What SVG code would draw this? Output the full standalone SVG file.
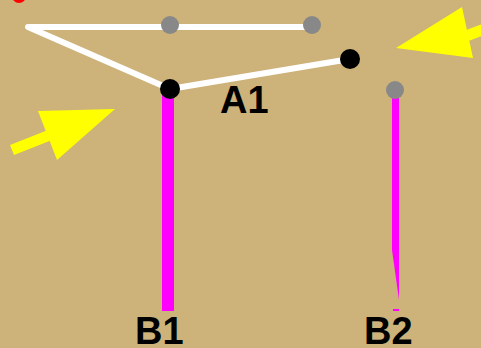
<svg xmlns="http://www.w3.org/2000/svg" width="481" height="348" viewBox="0 0 481 348">
<style>
.w{stroke:#fff;stroke-width:6;fill:none;stroke-linecap:round;stroke-linejoin:round}
.m{fill:#ff00ff}
.g{fill:#888}
.k{fill:#000}
.y{fill:#ffff00}
.t{font-family:"Liberation Sans",Arial,sans-serif;font-weight:bold;font-size:38px;fill:#000}
</style>
<rect width="481" height="348" fill="#CDB279"/>
<circle cx="19" cy="-4" r="7" fill="#ff0000"/>
<g id="connectors">
<polyline class="w" points="312,27 28,27 170,89 350,59"/>
<rect class="m" x="162" y="89" width="12" height="222"/>
<polygon class="m" points="392,90 399,90 399,300 392,250"/>
<rect class="m" x="393" y="309" width="6" height="2"/>
</g>
<g id="arrows">
<polygon class="y" points="38,111 115,109 57,160"/>
<line x1="12" y1="150" x2="50" y2="135" stroke="#ffff00" stroke-width="11"/>
<polygon class="y" points="462,7 396,48 473,58"/>
<line x1="466" y1="36" x2="485" y2="29" stroke="#ffff00" stroke-width="11"/>
</g>
<g id="n1"><circle class="g" cx="170" cy="25" r="9"/></g>
<g id="n2"><circle class="g" cx="312" cy="25" r="9"/></g>
<g id="n3"><circle class="g" cx="395" cy="90" r="9"/></g>
<g id="A1"><circle class="k" cx="170" cy="89" r="10"/><text class="t" x="220" y="113">A1</text></g>
<g id="n5"><circle class="k" cx="350" cy="59" r="10"/></g>
<g id="B1"><text class="t" x="135" y="344">B1</text></g>
<g id="B2"><text class="t" x="364" y="344">B2</text></g>
</svg>
